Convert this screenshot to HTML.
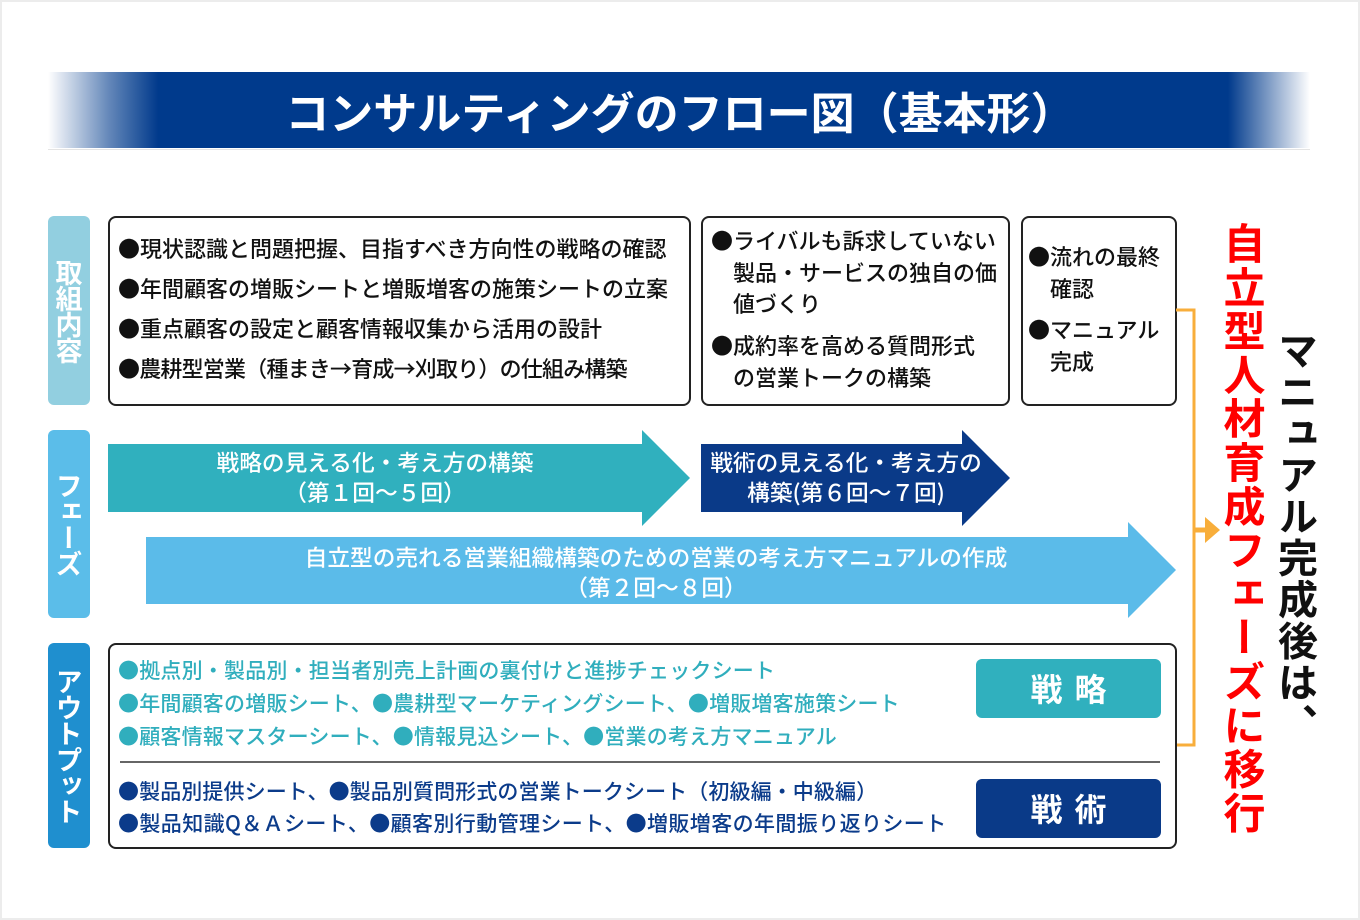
<!DOCTYPE html>
<html><head><meta charset="utf-8"><style>
*{margin:0;padding:0;box-sizing:border-box}
body{width:1360px;height:920px;background:#fff;position:relative;overflow:hidden;font-family:"Noto Sans CJK JP","Liberation Sans",sans-serif}
.a{position:absolute}
.frame{left:0;top:0;width:1360px;height:920px;border:2px solid #ececec}
.banner{left:48px;top:72px;width:1262px;height:76px;background:linear-gradient(90deg,rgba(0,58,140,0) 0px,rgba(0,58,140,.6) 60px,#003a8c 110px,#003a8c 1180px,rgba(0,58,140,0) 1262px)}
.title{left:0;top:84px;width:1360px;text-align:center;color:#fff;font-size:44px;font-weight:bold;line-height:52px;letter-spacing:0px}
.lbl{left:48px;width:42px;border-radius:6px;color:#fff;font-weight:bold;font-size:27px;writing-mode:vertical-rl;text-orientation:upright;display:flex;align-items:center;justify-content:center;letter-spacing:-1px}
.box{border:2px solid #222;border-radius:8px;background:#fff}
.t{font-size:22px;color:#111;line-height:24px;white-space:nowrap;font-weight:500}
.o{font-size:21px}
.w{color:#fff;font-size:22.7px;text-align:center;line-height:30px;white-space:nowrap;font-weight:500}
.c{color:#30aebd}.n{color:#0b3b8a}
.badge{left:976px;width:185px;height:59px;border-radius:6px;color:#fff;font-size:32px;font-weight:bold;text-align:center;line-height:59px;letter-spacing:12px;text-indent:12px}
.vt{writing-mode:vertical-rl;text-orientation:upright;font-weight:bold;white-space:nowrap}
</style></head><body>
<div class="a frame"></div>
<div class="a banner"></div>
<div class="a" style="left:48px;top:149px;width:1262px;height:1px;background:#e4e4e4"></div>
<div class="a title">コンサルティングのフロー図（基本形）</div>

<div class="a lbl" style="top:216px;height:189px;background:#92cfe0">取組内容</div>
<div class="a lbl" style="top:430px;height:188px;background:#5bbde9">フェーズ</div>
<div class="a lbl" style="top:643px;height:205px;background:#1f8fcf">アウトプット</div>

<div class="a box" style="left:108px;top:216px;width:583px;height:190px"></div>
<div class="a t" style="left:118px;top:236px">●現状認識と問題把握、目指すべき方向性の戦略の確認</div>
<div class="a t" style="left:118px;top:276px">●年間顧客の増販シートと増販増客の施策シートの立案</div>
<div class="a t" style="left:118px;top:316px">●重点顧客の設定と顧客情報収集から活用の設計</div>
<div class="a t" style="left:118px;top:356px;letter-spacing:-0.8px">●農耕型営業（種まき→育成→刈取り）の仕組み構築</div>

<div class="a box" style="left:701px;top:216px;width:309px;height:190px"></div>
<div class="a t" style="left:711px;top:228px">●ライバルも訴求していない</div>
<div class="a t" style="left:733px;top:260px">製品・サービスの独自の価</div>
<div class="a t" style="left:733px;top:291px">値づくり</div>
<div class="a t" style="left:711px;top:333px">●成約率を高める質問形式</div>
<div class="a t" style="left:733px;top:365px">の営業トークの構築</div>

<div class="a box" style="left:1021px;top:216px;width:156px;height:190px"></div>
<div class="a t" style="left:1028px;top:244px">●流れの最終</div>
<div class="a t" style="left:1050px;top:276px">確認</div>
<div class="a t" style="left:1028px;top:317px">●マニュアル</div>
<div class="a t" style="left:1050px;top:349px">完成</div>

<svg class="a" style="left:0;top:0" width="1360" height="920">
<polygon points="108,444 642,444 642,430 690,478 642,526 642,512 108,512" fill="#30b0be"/>
<polygon points="701,444 962,444 962,430 1010,478 962,526 962,512 701,512" fill="#0a3a88"/>
<polygon points="146,537 1128,537 1128,522 1176,570 1128,618 1128,604 146,604" fill="#5bbbe9"/>
<polyline points="1176,310 1194,310 1194,745 1176,745" fill="none" stroke="#f8ae3b" stroke-width="3"/>
<line x1="1194" y1="530" x2="1206" y2="530" stroke="#f8ae3b" stroke-width="5"/>
<polygon points="1205,517 1220,530 1205,543" fill="#f8ae3b"/>
</svg>
<div class="a w" style="left:108px;top:447px;width:534px">戦略の見える化・考え方の構築<br>（第１回〜５回）</div>
<div class="a w" style="left:701px;top:447px;width:290px">戦術の見える化・考え方の<br>構築(第６回〜７回)</div>
<div class="a w" style="left:146px;top:542px;width:1020px">自立型の売れる営業組織構築のための営業の考え方マニュアルの作成<br>（第２回〜８回）</div>

<div class="a box" style="left:108px;top:643px;width:1069px;height:206px"></div>
<div class="a t o c" style="left:118px;top:658px;letter-spacing:0.2px">●拠点別・製品別・担当者別売上計画の裏付けと進捗チェックシート</div>
<div class="a t o c" style="left:118px;top:691px;letter-spacing:0.2px">●年間顧客の増販シート、●農耕型マーケティングシート、●増販増客施策シート</div>
<div class="a t o c" style="left:118px;top:724px;letter-spacing:0.2px">●顧客情報マスターシート、●情報見込シート、●営業の考え方マニュアル</div>
<div class="a" style="left:120px;top:761px;width:1040px;height:2px;background:#666"></div>
<div class="a t o n" style="left:118px;top:779px;letter-spacing:0.1px">●製品別提供シート、●製品別質問形式の営業トークシート（初級編・中級編）</div>
<div class="a t o n" style="left:118px;top:811px;letter-spacing:0.4px">●製品知識Q＆Ａシート、●顧客別行動管理シート、●増販増客の年間振り返りシート</div>
<div class="a badge" style="top:659px;background:#30b0be">戦略</div>
<div class="a badge" style="top:779px;background:#0a3a88">戦術</div>

<div class="a vt" style="left:1222px;top:222px;font-size:42px;line-height:44px;color:#f00;letter-spacing:1.8px">自立型人材育成フェーズに移行</div>
<div class="a vt" style="left:1277px;top:330px;font-size:40px;line-height:42px;color:#111;letter-spacing:1.5px">マニュアル完成後は、</div>
</body></html>
